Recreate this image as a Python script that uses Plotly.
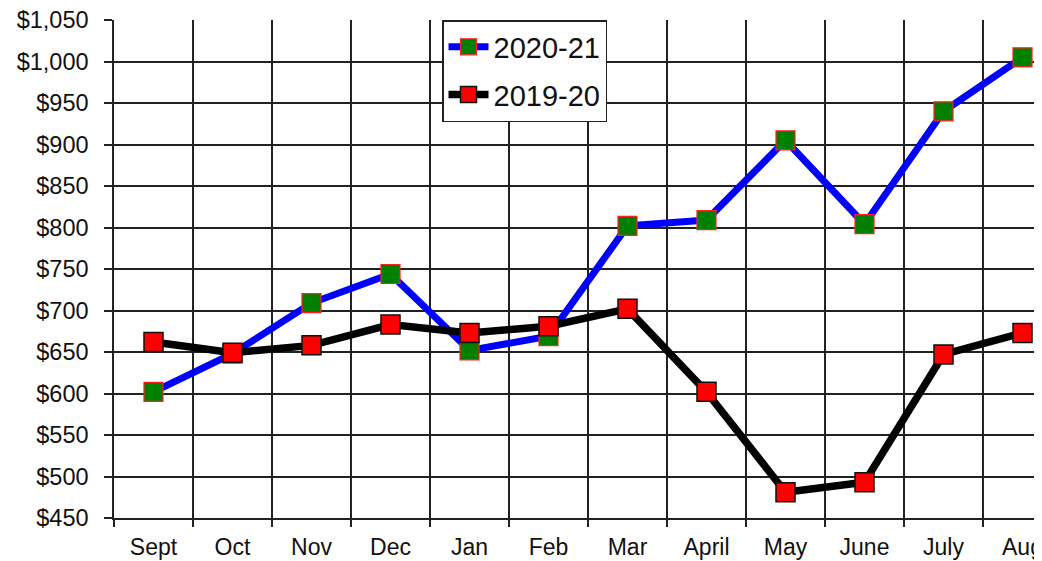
import plotly.graph_objects as go

months = ["Sept", "Oct", "Nov", "Dec", "Jan", "Feb", "Mar", "April", "May", "June", "July", "Aug"]
fy2021 = [602, 648, 709, 744, 652, 669, 802, 809, 905, 804, 940, 1005]
fy1920 = [662, 649, 658, 683, 673, 681, 702, 602, 481, 493, 647, 673]
y_ticks = list(range(450, 1051, 50))

fig = go.Figure()
fig.add_trace(go.Scatter(
    x=months, y=fy2021, name="2020-21", mode="lines+markers",
    line=dict(color="#0000ff", width=7),
    marker=dict(symbol="square", size=19, color="#008000", line=dict(color="#ff2020", width=1.2)),
    legendgroup="a",
))
fig.add_trace(go.Scatter(
    x=months, y=fy1920, name="2019-20", mode="lines+markers",
    line=dict(color="#000000", width=7.5),
    marker=dict(symbol="square", size=19, color="#ff0000", line=dict(color="#111111", width=1.5)),
    legendgroup="b",
))

font_family = "Arial, Liberation Sans, sans-serif"
# page body has an 8px margin; figure sits at (8, 8) in the window
fig_w, fig_h = 1034, 553
m_left, m_top, m_bot = 106, 12, 43
cat_w = 79
plot_w = fig_w - m_left
x_end = -0.5 + plot_w / cat_w

fig.update_layout(
    width=fig_w, height=fig_h,
    margin=dict(l=m_left, r=0, t=m_top, b=m_bot, pad=0, autoexpand=False),
    paper_bgcolor="white", plot_bgcolor="white",
    font=dict(family=font_family, color="#111111", size=23),
    showlegend=True,
    legend=dict(
        x=(442 - 114) / plot_w, y=1.0, xanchor="left", yanchor="top",
        bgcolor="white", bordercolor="#222222", borderwidth=1.5,
        font=dict(size=29, family=font_family, color="#111111"),
        tracegroupgap=7, traceorder="grouped", itemwidth=40,
    ),
    xaxis=dict(
        type="category", categoryorder="array", categoryarray=months,
        range=[-0.5, x_end], tickson="boundaries", automargin=False,
        ticklabeloverflow="allow", ticklabelstandoff=8,
        showgrid=True, gridcolor="#222222", gridwidth=1.5,
        showline=True, linecolor="#222222", linewidth=1.5,
        ticks="outside", ticklen=7, tickcolor="#222222", tickwidth=1.5,
        tickfont=dict(size=23, family=font_family, color="#111111"),
        zeroline=False, fixedrange=True,
    ),
    yaxis=dict(
        range=[450, 1050], tickvals=y_ticks, tickformat="$,", automargin=False,
        ticklabeloverflow="allow",
        showgrid=True, gridcolor="#222222", gridwidth=1.5,
        showline=True, linecolor="#222222", linewidth=1.5,
        ticks="outside", ticklen=8, tickcolor="#222222", tickwidth=1.5,
        ticklabelstandoff=11,
        tickfont=dict(size=23.5, family=font_family, color="#111111"),
        zeroline=False, fixedrange=True,
    ),
)

fig.write_html("out.html")
